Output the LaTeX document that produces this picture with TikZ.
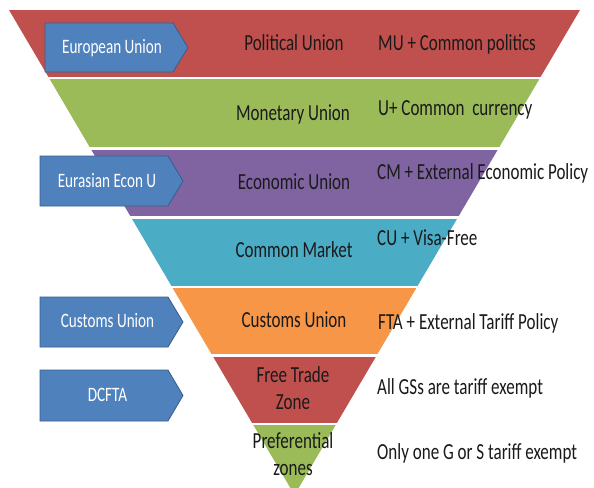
\documentclass[tikz,border=0pt]{standalone}
\usepackage{fontspec}
\setmainfont{Carlito}[FakeStretch=0.74]
\definecolor{bandred}{HTML}{C0504D}
\definecolor{bandgreen}{HTML}{9BBB59}
\definecolor{bandpurple}{HTML}{8064A2}
\definecolor{bandcyan}{HTML}{4BACC6}
\definecolor{bandorange}{HTML}{F79646}
\definecolor{tagblue}{HTML}{4F81BD}
\definecolor{tagedge}{HTML}{385D8A}
\definecolor{inktext}{HTML}{1A1A1A}
\tikzset{
  midtext/.style={inner sep=0pt, anchor=mid, text=inktext, font=\fontsize{23}{27}\selectfont, align=center},
  sidetext/.style={inner sep=0pt, anchor=mid west, text=inktext, font=\fontsize{23}{27}\selectfont},
  tagtext/.style={inner sep=0pt, anchor=mid, text=white, font=\fontsize{20.5}{24}\selectfont},
  tagshape/.style={fill=tagblue, draw=tagedge, line width=0.8pt},
}
\begin{document}
\begin{tikzpicture}[x=1pt,y=-1pt]
\useasboundingbox (0,0) rectangle (594,487);
\fill[white] (0,0) rectangle (594,487);
\begin{scope}
  \clip (9,10) -- (580,10) -- (294.5,495) -- cycle;
  \fill[bandred]    (0,10)    rectangle (594,76.5);
  \fill[bandgreen]  (0,79)    rectangle (594,147);
  \fill[bandpurple] (0,149.5) rectangle (594,216);
  \fill[bandcyan]   (0,218.5) rectangle (594,285.5);
  \fill[bandorange] (0,287.5) rectangle (594,354);
  \fill[bandred]    (0,356.5) rectangle (594,422.5);
  \fill[bandgreen]  (0,424.5) rectangle (594,500);
\end{scope}
% tags
\draw[tagshape] (45,23) -- (173,23) -- (188,47.5) -- (173,72) -- (45,72) -- cycle;
\draw[tagshape] (40,156) -- (168,156) -- (183,181) -- (168,206) -- (40,206) -- cycle;
\draw[tagshape] (40,297) -- (168,297) -- (183,322) -- (168,347) -- (40,347) -- cycle;
\draw[tagshape] (40,370) -- (168,370) -- (183,395.5) -- (168,421) -- (40,421) -- cycle;
\node[tagtext] (teu)  at (112,51.5)  {European Union};
\node[tagtext] (teeu) at (107,185.5) {Eurasian Econ U};
\node[tagtext] (tcu)  at (107.5,325.5) {Customs Union};
\node[tagtext] (tdc)  at (107.5,399.5) {DCFTA};
% middle labels
\node[midtext] (m1) at (294,48)  {Political Union};
\node[midtext] (m2) at (293,118) {Monetary Union};
\node[midtext] (m3) at (294,187) {Economic Union};
\node[midtext] (m4) at (294,255) {Common Market};
\node[midtext] (m5) at (294,325) {Customs Union};
\node[midtext] (m6) at (293,407) {Free Trade\\Zone};
\node[midtext] (m7) at (293,473) {Preferential\\zones};
% right labels
\node[sidetext] (r1) at (378,48)  {MU + Common politics};
\node[sidetext] (r2) at (378,113) {U+ Common~ currency};
\node[sidetext] (r3) at (377,177) {CM + External Economic Policy};
\node[sidetext] (r4) at (377,243) {CU + Visa-Free};
\node[sidetext] (r5) at (378,327) {FTA + External Tariff Policy};
\node[sidetext] (r6) at (377,392) {All GSs are tariff exempt};
\node[sidetext] (r7) at (377,457) {Only one G or S tariff exempt};
\end{tikzpicture}
\end{document}
